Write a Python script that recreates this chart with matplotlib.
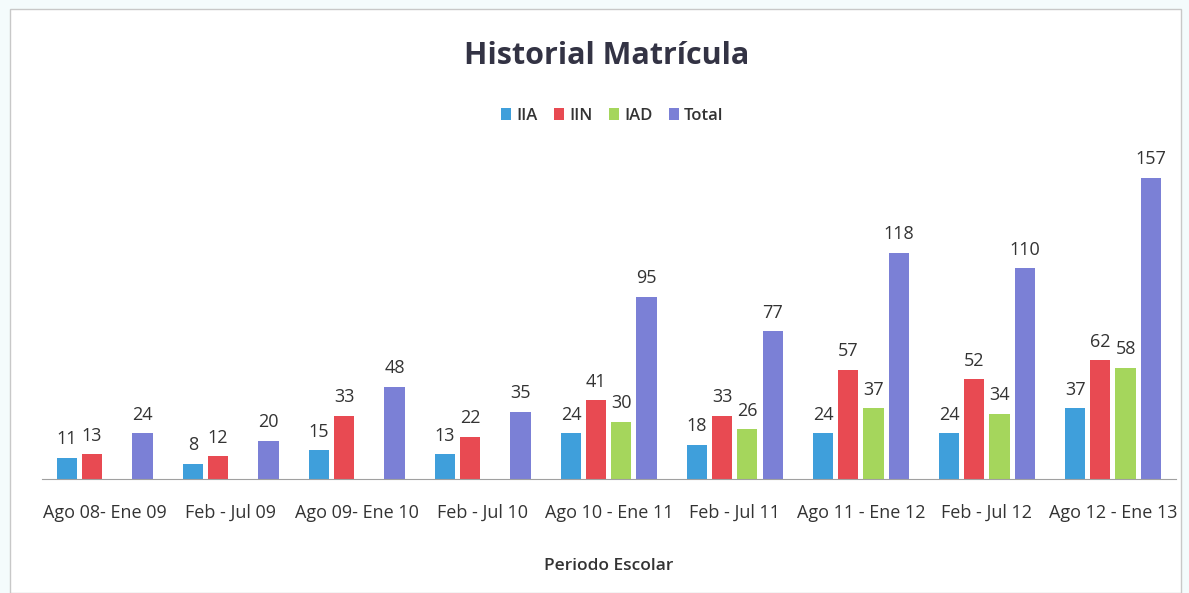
import numpy as np
import matplotlib
matplotlib.use("Agg")
import matplotlib.pyplot as plt
from matplotlib.patches import Rectangle

categories = ["Ago 08- Ene 09", "Feb - Jul 09", "Ago 09- Ene 10", "Feb - Jul 10",
              "Ago 10 - Ene 11", "Feb - Jul 11", "Ago 11 - Ene 12", "Feb - Jul 12",
              "Ago 12 - Ene 13"]
iia = [11, 8, 15, 13, 24, 18, 24, 24, 37]
iin = [13, 12, 33, 22, 41, 33, 57, 52, 62]
iad = [None, None, None, None, 30, 26, 37, 34, 58]
total = [24, 20, 48, 35, 95, 77, 118, 110, 157]

series_names = ["IIA", "IIN", "IAD", "Total"]
colors = ["#3f9fdb", "#e84a52", "#a5d65c", "#7b80d6"]

plt.rcParams['font.family'] = ['Open Sans', 'DejaVu Sans']

fig = plt.figure(figsize=(11.89, 5.93), dpi=100)
fig.patch.set_facecolor("#f4fbfc")
fig.patches.append(Rectangle((0.008, 0.0), 0.985, 0.985, transform=fig.transFigure,
                             facecolor="white", edgecolor="#c8c8c8", linewidth=1.0, zorder=-1))

ax = fig.add_axes([0.035, 0.192, 0.954, 0.55])
ax.set_facecolor("white")
x = np.arange(len(categories))
w = 0.16
offsets = [-0.3, -0.1, 0.1, 0.3]
for data, name, col, off in zip([iia, iin, iad, total], series_names, colors, offsets):
    vals = np.array([np.nan if v is None else v for v in data], dtype=float)
    bars = ax.bar(x + off, vals, width=w, color=col, label=name)
    for xi, v in zip(x + off, vals):
        if not np.isnan(v):
            ax.text(xi, v + 5, f"{int(v)}", ha="center", va="bottom", fontsize=13, color="#333333")

ax.set_xlim(-0.5, len(categories) - 0.5)
ax.set_ylim(0, 170)
ax.set_xticks(x)
ax.set_xticklabels(categories, fontsize=13, color="#333333")
ax.tick_params(axis="x", length=0, pad=18)
ax.set_yticks([])
for s in ["top", "right", "left"]:
    ax.spines[s].set_visible(False)
ax.spines["bottom"].set_color("#a0a0a0")
ax.set_xlabel("Periodo Escolar", fontsize=12.5, color="#333333", labelpad=26,
              fontweight="semibold")

fig.text(0.51, 0.905, "Historial Matrícula", ha="center", va="center", fontsize=22,
         color="#333344", fontweight="bold")
leg = fig.legend(loc="center", bbox_to_anchor=(0.515, 0.805), ncol=4, frameon=False,
                 fontsize=12, handlelength=0.6, handleheight=0.8, columnspacing=1.0,
                 handletextpad=0.3, prop={"size": 12, "weight": "semibold"})
for t in leg.get_texts():
    t.set_color("#333333")

fig.savefig("out.png", dpi=100, facecolor=fig.get_facecolor())
